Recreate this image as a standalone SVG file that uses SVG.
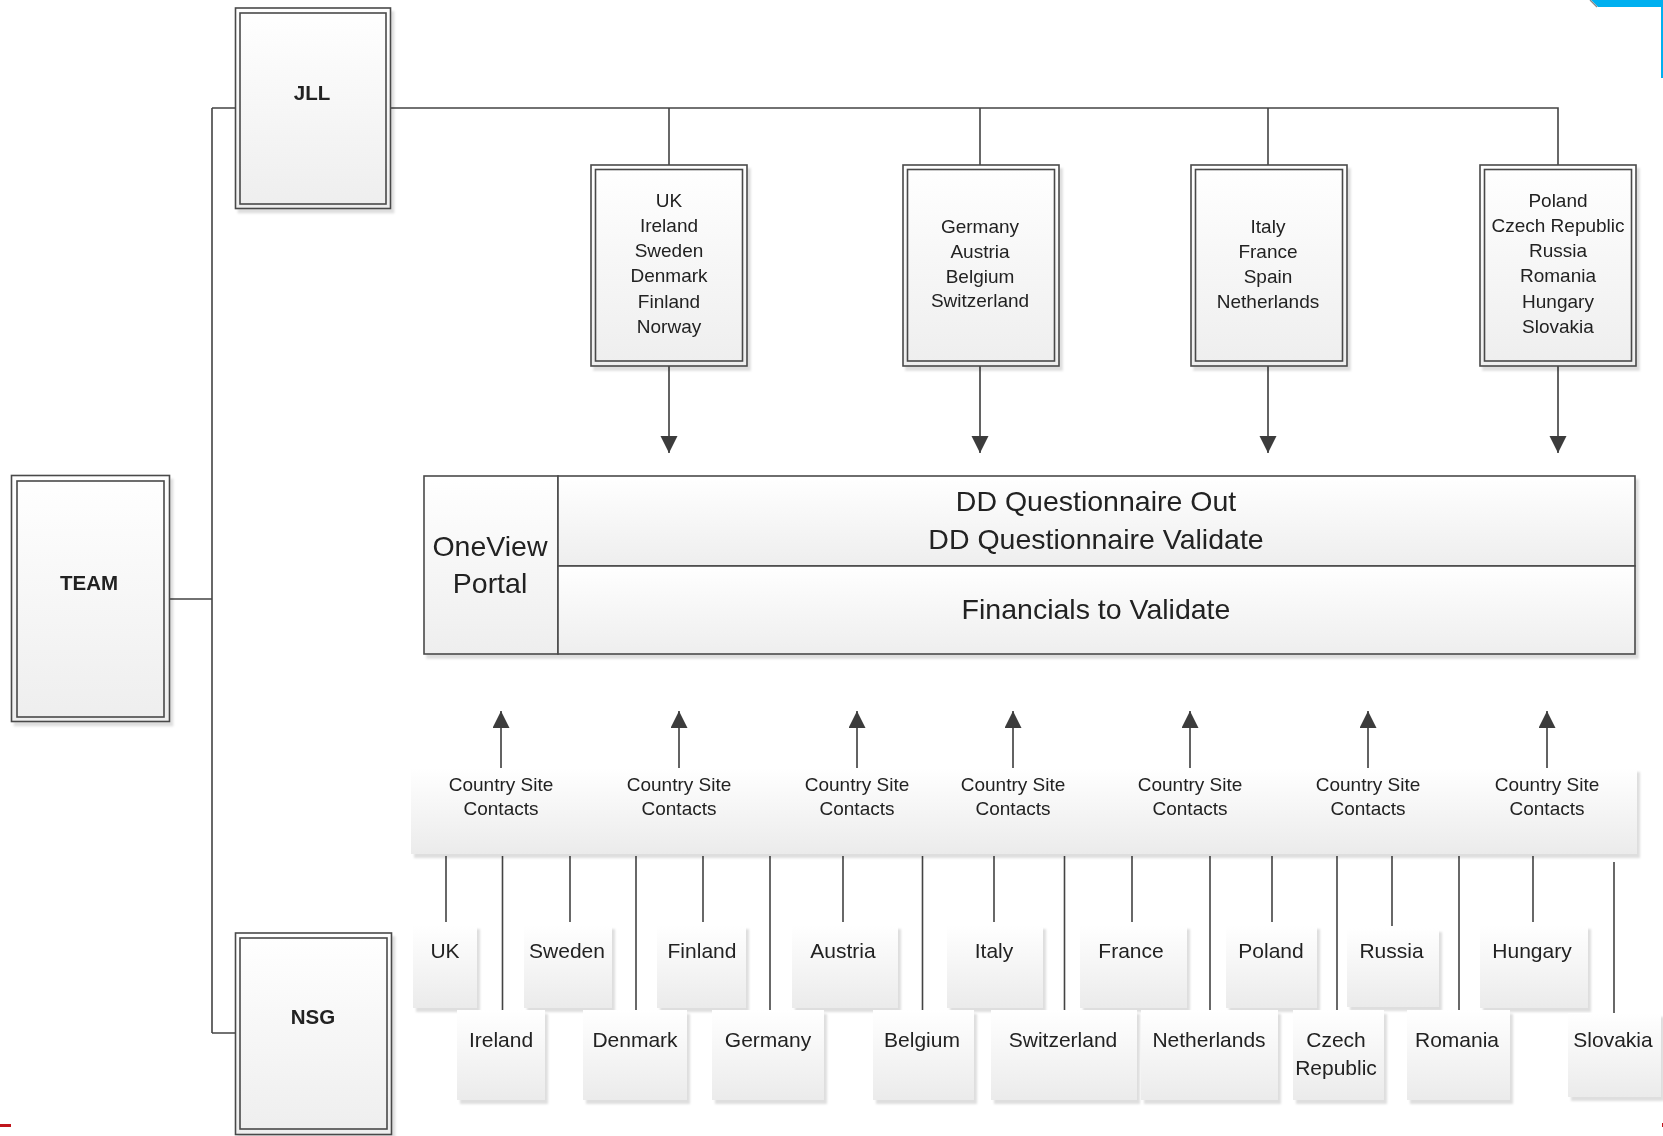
<svg xmlns="http://www.w3.org/2000/svg" width="1663" height="1136" viewBox="0 0 1663 1136">
<defs>
<linearGradient id="g" x1="0" y1="0" x2="0" y2="1"><stop offset="0" stop-color="#ffffff"/><stop offset="1" stop-color="#eeeeee"/></linearGradient>
<linearGradient id="gb" x1="0" y1="0" x2="0" y2="1"><stop offset="0" stop-color="#ffffff"/><stop offset="1" stop-color="#ebebeb"/></linearGradient>
<filter id="sh" x="-10%" y="-10%" width="130%" height="130%"><feDropShadow dx="3" dy="4" stdDeviation="1.2" flood-color="#000" flood-opacity="0.13"/></filter>
<marker id="ah" markerUnits="userSpaceOnUse" markerWidth="18" markerHeight="18" refX="17" refY="8.5" orient="auto"><path d="M0,0 L17,8.5 L0,17 Z" fill="#3c3c3c"/></marker>
</defs>
<style>
.o{fill:url(#g);stroke:#4a4a4a;stroke-width:1.6}
.i{fill:none;stroke:#4a4a4a;stroke-width:1.6}
.c{fill:url(#gb);stroke:none}
.ln{fill:none;stroke:#444;stroke-width:1.6}
.ar{fill:none;stroke:#3c3c3c;stroke-width:1.6;marker-end:url(#ah)}
text{font-family:"Liberation Sans",Arial,sans-serif;fill:#222;text-anchor:middle;dominant-baseline:central}
.b{font-weight:bold;font-size:20.5px}
.s{font-size:19px}
.m{font-size:21px}
.L{font-size:28.5px}
</style>
<rect width="1663" height="1136" fill="#ffffff"/>

<g id="connectors">
<path class="ln" d="M212,108 V1033 M212,108 H235.5 M212,1033 H235.5 M169.5,599 H212"/>
<path class="ln" d="M390.5,108 H1558 V165 M669,108 V165 M980,108 V165 M1268,108 V165"/>
<path class="ar" d="M669,366 V453"/>
<path class="ar" d="M980,366 V453"/>
<path class="ar" d="M1268,366 V453"/>
<path class="ar" d="M1558,366 V453"/>
<path class="ar" d="M501,770 V711"/>
<path class="ar" d="M679,770 V711"/>
<path class="ar" d="M857,770 V711"/>
<path class="ar" d="M1013,770 V711"/>
<path class="ar" d="M1190,770 V711"/>
<path class="ar" d="M1368,770 V711"/>
<path class="ar" d="M1547,770 V711"/>
<path class="ln" d="M446,856 V922 M570,856 V922 M703,856 V922 M843,856 V922 M994,856 V922 M1132,856 V922 M1272,856 V922 M1392,856 V926 M1533,856 V922"/>
<path class="ln" d="M502.5,856 V1010 M636,856 V1010 M770,856 V1010 M922.5,856 V1010 M1064.5,856 V1010 M1210,856 V1010 M1337,856 V1010 M1459,856 V1010 M1614,862 V1013"/>
</g>

<g id="jll" filter="url(#sh)"><rect class="o" x="235.5" y="8" width="155" height="200.5"/><rect class="i" x="240" y="13" width="146" height="191"/><text class="b" x="312" y="92">JLL</text></g>
<g id="team" filter="url(#sh)"><rect class="o" x="11.5" y="475.5" width="158" height="246"/><rect class="i" x="17" y="481" width="147" height="236"/><text class="b" x="89" y="582">TEAM</text></g>
<g id="nsg" filter="url(#sh)"><rect class="o" x="235.5" y="933" width="156" height="201.5"/><rect class="i" x="240" y="938" width="147" height="191"/><text class="b" x="313" y="1016">NSG</text></g>

<g id="grp1" filter="url(#sh)"><rect class="o" x="591" y="165" width="156" height="201"/><rect class="i" x="595.5" y="169.5" width="147" height="191.5"/>
<text class="s" x="669" y="200">UK</text><text class="s" x="669" y="225">Ireland</text><text class="s" x="669" y="250">Sweden</text><text class="s" x="669" y="275">Denmark</text><text class="s" x="669" y="301">Finland</text><text class="s" x="669" y="326">Norway</text></g>
<g id="grp2" filter="url(#sh)"><rect class="o" x="903" y="165" width="156" height="201"/><rect class="i" x="907.5" y="169.5" width="147" height="191.5"/>
<text class="s" x="980" y="226">Germany</text><text class="s" x="980" y="251">Austria</text><text class="s" x="980" y="276">Belgium</text><text class="s" x="980" y="300">Switzerland</text></g>
<g id="grp3" filter="url(#sh)"><rect class="o" x="1191" y="165" width="156" height="201"/><rect class="i" x="1195.5" y="169.5" width="147" height="191.5"/>
<text class="s" x="1268" y="226">Italy</text><text class="s" x="1268" y="251">France</text><text class="s" x="1268" y="276">Spain</text><text class="s" x="1268" y="301">Netherlands</text></g>
<g id="grp4" filter="url(#sh)"><rect class="o" x="1480" y="165" width="156" height="201"/><rect class="i" x="1484.5" y="169.5" width="147" height="191.5"/>
<text class="s" x="1558" y="200">Poland</text><text class="s" x="1558" y="225">Czech Republic</text><text class="s" x="1558" y="250">Russia</text><text class="s" x="1558" y="275">Romania</text><text class="s" x="1558" y="301">Hungary</text><text class="s" x="1558" y="326">Slovakia</text></g>

<g id="oneview" filter="url(#sh)">
<rect class="o" x="424" y="476" width="134" height="178"/>
<rect class="o" x="558" y="476" width="1077" height="90"/>
<rect class="o" x="558" y="566" width="1077" height="88"/>
<text class="L" x="490" y="546">OneView</text><text class="L" x="490" y="583">Portal</text>
<text class="L" x="1096" y="501">DD Questionnaire Out</text><text class="L" x="1096" y="539">DD Questionnaire Validate</text>
<text class="L" x="1096" y="609">Financials to Validate</text>
</g>

<g id="contacts" filter="url(#sh)">
<g id="csc1"><rect class="c" x="411" y="768" width="181" height="86"/><text class="s" x="501" y="784">Country Site</text><text class="s" x="501" y="808">Contacts</text></g>
<g id="csc2"><rect class="c" x="592" y="768" width="176" height="86"/><text class="s" x="679" y="784">Country Site</text><text class="s" x="679" y="808">Contacts</text></g>
<g id="csc3"><rect class="c" x="768" y="768" width="162" height="86"/><text class="s" x="857" y="784">Country Site</text><text class="s" x="857" y="808">Contacts</text></g>
<g id="csc4"><rect class="c" x="930" y="768" width="171" height="86"/><text class="s" x="1013" y="784">Country Site</text><text class="s" x="1013" y="808">Contacts</text></g>
<g id="csc5"><rect class="c" x="1101" y="768" width="178" height="86"/><text class="s" x="1190" y="784">Country Site</text><text class="s" x="1190" y="808">Contacts</text></g>
<g id="csc6"><rect class="c" x="1279" y="768" width="178" height="86"/><text class="s" x="1368" y="784">Country Site</text><text class="s" x="1368" y="808">Contacts</text></g>
<g id="csc7"><rect class="c" x="1457" y="768" width="180" height="86"/><text class="s" x="1547" y="784">Country Site</text><text class="s" x="1547" y="808">Contacts</text></g>
</g>

<g id="countries" filter="url(#sh)">
<g id="c-uk"><rect class="c" x="413" y="925" width="64" height="83"/><text class="m" x="445" y="950">UK</text></g>
<g id="c-sweden"><rect class="c" x="524" y="925" width="88" height="83"/><text class="m" x="567" y="950">Sweden</text></g>
<g id="c-finland"><rect class="c" x="657" y="925" width="89" height="83"/><text class="m" x="702" y="950">Finland</text></g>
<g id="c-austria"><rect class="c" x="792" y="925" width="106" height="83"/><text class="m" x="843" y="950">Austria</text></g>
<g id="c-italy"><rect class="c" x="947" y="925" width="96" height="83"/><text class="m" x="994" y="950">Italy</text></g>
<g id="c-france"><rect class="c" x="1080" y="925" width="107" height="83"/><text class="m" x="1131" y="950">France</text></g>
<g id="c-poland"><rect class="c" x="1226" y="925" width="91" height="83"/><text class="m" x="1271" y="950">Poland</text></g>
<g id="c-russia"><rect class="c" x="1347" y="928" width="92" height="79"/><text class="m" x="1391.5" y="950">Russia</text></g>
<g id="c-hungary"><rect class="c" x="1480" y="925" width="108" height="83"/><text class="m" x="1532" y="950">Hungary</text></g>
<g id="c-ireland"><rect class="c" x="457" y="1010" width="88" height="90"/><text class="m" x="501" y="1039">Ireland</text></g>
<g id="c-denmark"><rect class="c" x="583" y="1010" width="104" height="90"/><text class="m" x="635" y="1039">Denmark</text></g>
<g id="c-germany"><rect class="c" x="712" y="1010" width="112" height="90"/><text class="m" x="768" y="1039">Germany</text></g>
<g id="c-belgium"><rect class="c" x="873" y="1010" width="101" height="90"/><text class="m" x="922" y="1039">Belgium</text></g>
<g id="c-switzerland"><rect class="c" x="991" y="1010" width="146" height="90"/><text class="m" x="1063" y="1039">Switzerland</text></g>
<g id="c-netherlands"><rect class="c" x="1141" y="1010" width="137" height="90"/><text class="m" x="1209" y="1039">Netherlands</text></g>
<g id="c-czech"><rect class="c" x="1293" y="1010" width="91" height="90"/><text class="m" x="1336" y="1039">Czech</text><text class="m" x="1336" y="1067">Republic</text></g>
<g id="c-romania"><rect class="c" x="1407" y="1010" width="103" height="90"/><text class="m" x="1457" y="1039">Romania</text></g>
<g id="c-slovakia"><rect class="c" x="1568" y="1013" width="93" height="84"/><text class="m" x="1613" y="1039">Slovakia</text></g>
</g>

<g id="edge-marks">
<polygon points="1591,0 1663,0 1663,7 1598,7" fill="#00b0f0"/>
<line x1="1590" y1="0" x2="1597" y2="7" stroke="#888" stroke-width="1.2"/>
<rect x="1661" y="0" width="2" height="78" fill="#00b0f0"/>
<rect x="0" y="1124" width="11" height="3" fill="#c0161c"/>
<rect x="1662" y="1123" width="1" height="4" fill="#c0161c"/>
</g>
</svg>
